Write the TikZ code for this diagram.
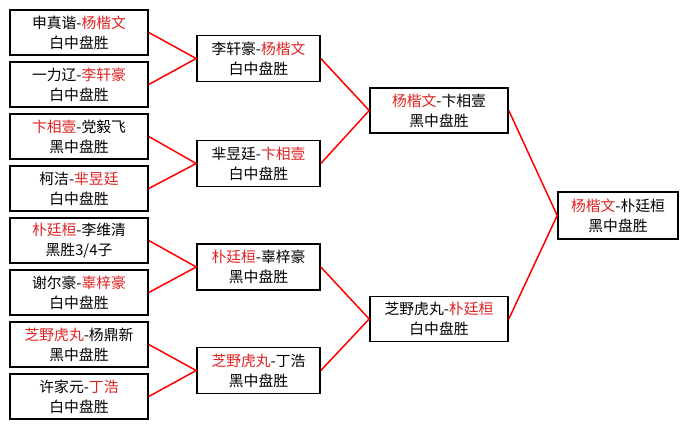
\documentclass[tikz,border=0pt]{standalone}
\usepackage{fontspec}
\setmainfont{Noto Sans CJK SC}
\definecolor{wred}{RGB}{225,35,35}
\newcommand{\rd}[1]{\textcolor{wred}{#1}}
\begin{document}
\begin{tikzpicture}[x=1pt,y=-1pt,
  box/.style={draw=black, line width=1.6pt, fill=white, align=center, inner sep=0pt,
    font=\fontsize{14.8}{20}\selectfont},
  c1/.style={box, minimum width=138pt, minimum height=45pt},
  c2/.style={box, minimum width=123pt, minimum height=46pt},
  c3/.style={box, minimum width=138pt, minimum height=45pt},
  c4/.style={box, minimum width=120pt, minimum height=47pt},
  link/.style={draw=red, line width=1.5pt}]
\useasboundingbox[fill=white] (0,0) rectangle (691,429);
% column 1
\node[c1] (a1) at (79,32.5) {申真谐-\rd{杨楷文}\\白中盘胜};
\node[c1] (a2) at (79,84.5) {一力辽-\rd{李轩豪}\\白中盘胜};
\node[c1] (a3) at (79,136.5) {\rd{卞相壹}-党毅飞\\黑中盘胜};
\node[c1] (a4) at (79,188.5) {柯洁-\rd{芈昱廷}\\白中盘胜};
\node[c1] (a5) at (79,240.5) {\rd{朴廷桓}-李维清\\黑胜3/4子};
\node[c1] (a6) at (79,292.5) {谢尔豪-\rd{辜梓豪}\\白中盘胜};
\node[c1] (a7) at (79,344.5) {\rd{芝野虎丸}-杨鼎新\\黑中盘胜};
\node[c1] (a8) at (79,396.5) {许家元-\rd{丁浩}\\白中盘胜};
% column 2
\node[c2] (b1) at (258.5,58.5) {李轩豪-\rd{杨楷文}\\白中盘胜};
\node[c2] (b2) at (258.5,163.5) {芈昱廷-\rd{卞相壹}\\白中盘胜};
\node[c2] (b3) at (258.5,267) {\rd{朴廷桓}-辜梓豪\\黑中盘胜};
\node[c2] (b4) at (258.5,370.5) {\rd{芝野虎丸}-丁浩\\黑中盘胜};
% column 3
\node[c3] (c1) at (439,110.5) {\rd{杨楷文}-卞相壹\\黑中盘胜};
\node[c3] (c2) at (439,319) {芝野虎丸-\rd{朴廷桓}\\白中盘胜};
% column 4
\node[c4] (d1) at (618,215.5) {\rd{杨楷文}-朴廷桓\\黑中盘胜};
% links
\draw[link] (a1.east) -- (b1.west) -- (a2.east);
\draw[link] (a3.east) -- (b2.west) -- (a4.east);
\draw[link] (a5.east) -- (b3.west) -- (a6.east);
\draw[link] (a7.east) -- (b4.west) -- (a8.east);
\draw[link] (b1.east) -- (c1.west) -- (b2.east);
\draw[link] (b3.east) -- (c2.west) -- (b4.east);
\draw[link] (c1.east) -- (d1.west) -- (c2.east);
\end{tikzpicture}
\end{document}
